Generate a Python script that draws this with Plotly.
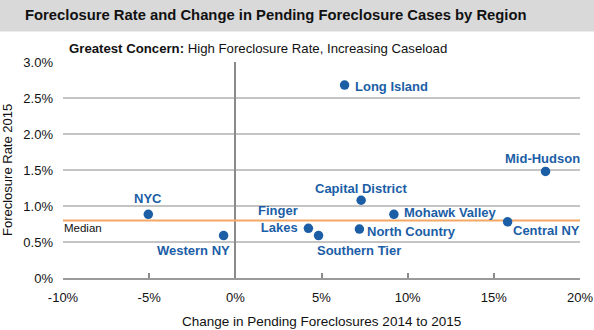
import plotly.graph_objects as go

regions = ["NYC", "Western NY", "Long Island", "Mid-Hudson", "Capital District",
           "Mohawk Valley", "Central NY", "North Country", "Finger<br>Lakes", "Southern Tier"]
change_pct = [-5.05, -0.68, 6.34, 18.0, 7.3, 9.2, 15.8, 7.2, 4.24, 4.83]
rate_pct = [0.885, 0.59, 2.68, 1.48, 1.08, 0.885, 0.78, 0.68, 0.69, 0.59]
median_rate = 0.80
x_ticks = [-10, -5, 0, 5, 10, 15, 20]
y_ticks = [0, 0.5, 1.0, 1.5, 2.0, 2.5, 3.0]
y_tick_text = ["0%", "0.5%", "1.0%", "1.5%", "2.0%", "2.5%", "3.0%"]
x_tick_text = ["-10%", "-5%", "0%", "5%", "10%", "15%", "20%"]

# label placement: (xanchor, yanchor, xshift, yshift, align)
label_pos = [
    ("center", "middle", 0, 16, "center"),
    ("right", "middle", 8, -15, "right"),
    ("left", "middle", 8, -1, "left"),
    ("center", "middle", -3, 13, "center"),
    ("center", "middle", 0, 12, "center"),
    ("left", "middle", 8, 2, "left"),
    ("left", "middle", 3, -9, "left"),
    ("left", "middle", 6, -2, "left"),
    ("right", "middle", -8, 9, "right"),
    ("left", "middle", -4, -15, "left"),
]

BLUE = "#1b5ea6"
FONT = "Liberation Sans, Arial, sans-serif"

fig = go.Figure()

fig.add_trace(go.Scatter(
    x=[x_ticks[0], x_ticks[-1]], y=[median_rate, median_rate], mode="lines",
    line=dict(color="#f5a766", width=2), hoverinfo="skip", showlegend=False))

fig.add_trace(go.Scatter(
    x=change_pct, y=rate_pct, mode="markers",
    marker=dict(color=BLUE, size=9.5), text=regions, showlegend=False))

for name, x, y, (xa, ya, xs, ys, al) in zip(regions, change_pct, rate_pct, label_pos):
    fig.add_annotation(x=x, y=y, text=f"<b>{name}</b>", showarrow=False,
                       xanchor=xa, yanchor=ya, xshift=xs, yshift=ys, align=al,
                       font=dict(family=FONT, size=13, color=BLUE))

fig.add_annotation(x=x_ticks[0], y=median_rate, text="Median", showarrow=False,
                   xanchor="left", yanchor="middle", xshift=-1, yshift=-8,
                   font=dict(family=FONT, size=11.5, color="#111"))

PW, PH = 517, 216
fig.add_annotation(xref="paper", yref="paper", x=(23-63)/PW, y=1 + (62-15.3)/PH,
                   text="<b>Foreclosure Rate and Change in Pending Foreclosure Cases by Region</b>",
                   showarrow=False, xanchor="left", yanchor="middle",
                   font=dict(family=FONT, size=14.8, color="#111"))
fig.add_annotation(xref="paper", yref="paper", x=(67-63)/PW, y=1 + (62-48.7)/PH,
                   text="<b>Greatest Concern:</b> High Foreclosure Rate, Increasing Caseload",
                   showarrow=False, xanchor="left", yanchor="middle",
                   font=dict(family=FONT, size=13.2, color="#111"))
fig.add_annotation(xref="paper", yref="paper", x=(7-63)/PW, y=0.5,
                   text="Foreclosure Rate 2015", textangle=-90,
                   showarrow=False, xanchor="center", yanchor="middle",
                   font=dict(family=FONT, size=13, color="#111"))
fig.add_annotation(xref="paper", yref="paper", x=0.5, y=-(321.7-278)/PH,
                   text="Change in Pending Foreclosures 2014 to 2015",
                   showarrow=False, xanchor="center", yanchor="middle",
                   font=dict(family=FONT, size=13.5, color="#111"))

fig.update_layout(
    width=594, height=330,
    margin=dict(l=63, r=14, t=62, b=52, autoexpand=False),
    paper_bgcolor="white", plot_bgcolor="white",
    font=dict(family=FONT, size=13, color="#111"),
    shapes=[dict(type="rect", xref="paper", yref="paper",
                 x0=-63/PW, x1=1 + 14/PW, y0=1 + (62-31.5)/PH, y1=1 + 62/PH,
                 fillcolor="#d9d9d9", line_width=0, layer="below")],
    xaxis=dict(range=[x_ticks[0], x_ticks[-1]], tickvals=x_ticks, ticktext=x_tick_text,
               automargin=False,
               showgrid=False, zeroline=True, zerolinecolor="#8a8a8a", zerolinewidth=1.5,
               showline=True, linecolor="#9a9a9a", linewidth=1.5,
               ticks="inside", ticklen=5, tickcolor="#8a8a8a", tickwidth=1.5,
               ticklabelstandoff=7, tickfont=dict(size=13)),
    yaxis=dict(range=[y_ticks[0], y_ticks[-1]], tickvals=y_ticks, ticktext=y_tick_text,
               automargin=False,
               showgrid=True, gridcolor="#c4c4c4", gridwidth=1.5, zeroline=False,
               showline=False, ticks="", ticklabelstandoff=9, tickfont=dict(size=13)),
)

fig.write_html("out.html")
